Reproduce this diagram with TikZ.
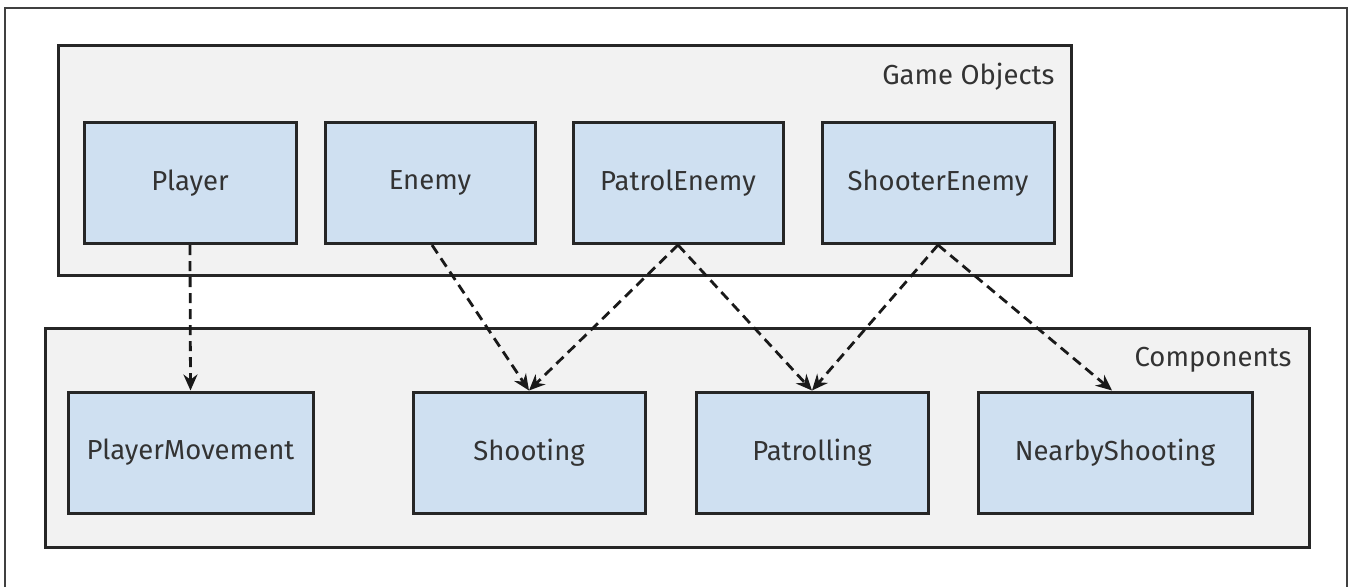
\documentclass[tikz,border=0pt]{standalone}
\usepackage{fontspec}
\setmainfont{Fira Sans}
\usetikzlibrary{
  arrows.meta % For arrow tips
}
\definecolor{boxblue}{HTML}{CFE0F1}
\definecolor{groupgray}{HTML}{F2F2F2}
\definecolor{linegray}{HTML}{262626}

\begin{document}
\begin{tikzpicture}[
      x=1pt, y=-1pt, % Pixel coordinates, y downwards
      >={Stealth[length=16pt, width=14pt]}, % Default arrow tip
      group/.style={draw=linegray, line width=3pt, fill=groupgray, inner sep=0pt}, % Style for the two groups
      box/.style={draw=linegray, line width=3pt, fill=boxblue, inner sep=0pt,
        minimum height=121pt, text=black!80, font=\fontsize{27.5}{32}\selectfont}, % Style for the classes
      grouplabel/.style={anchor=east, text=black!80, font=\fontsize{27.5}{32}\selectfont},
      uses/.style={->, black!90, line width=2.8pt, dash pattern=on 10pt off 6pt}, % Style for dependencies
    ]
    \useasboundingbox (0,0) rectangle (1349,587);
    % Rahmen
    \draw[black!75, line width=2pt] (5,587) |- (1347,8) -- (1347,587);
    % Gruppen
    \node[group, minimum width=1013pt, minimum height=230pt] (objects) at (564.5,160) {};
    \node[group, minimum width=1264pt, minimum height=219pt] (components) at (677,437.5) {};
    \node[grouplabel] (objectslabel) at (1058,77) {Game Objects};
    \node[grouplabel] (componentslabel) at (1295,360) {Components};
    % Game Objects
    \node[box, minimum width=212pt] (player) at (190,183) {Player};
    \node[box, minimum width=210pt] (enemy) at (430,183) {Enemy};
    \node[box, minimum width=210pt] (patrol) at (678,183) {PatrolEnemy};
    \node[box, minimum width=232pt] (shooter) at (938,183) {ShooterEnemy};
    % Components
    \node[box, minimum width=245pt] (movement) at (190.5,452.5) {PlayerMovement};
    \node[box, minimum width=232pt] (shooting) at (529,452.5) {Shooting};
    \node[box, minimum width=232pt] (patrolling) at (812,452.5) {Patrolling};
    \node[box, minimum width=274pt] (nearby) at (1115,452.5) {NearbyShooting};
    % Abhaengigkeiten
    \draw[uses] (player.south) -- (movement.north);
    \draw[uses] ([xshift=2pt]enemy.south) -- (shooting.north);
    \draw[uses] (patrol.south) -- (shooting.north);
    \draw[uses] (patrol.south) -- (patrolling.north);
    \draw[uses] (shooter.south) -- (patrolling.north);
    \draw[uses] (shooter.south) -- ([xshift=-3pt]nearby.north);

  \end{tikzpicture}
\end{document}
